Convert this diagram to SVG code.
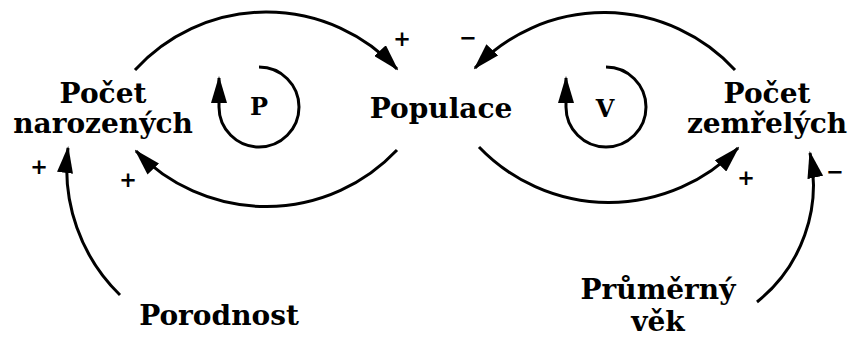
<svg xmlns="http://www.w3.org/2000/svg" width="851" height="338" viewBox="0 0 851 338">
<style>
.lbl{font-family:"DejaVu Serif","Liberation Serif",serif;font-weight:bold;font-size:28px;fill:#000;text-anchor:middle}
.loop{font-family:"DejaVu Serif","Liberation Serif",serif;font-weight:bold;font-size:24px;fill:#000;text-anchor:middle}
.sign{font-family:"DejaVu Sans","Liberation Sans",sans-serif;font-weight:bold;font-size:21px;fill:#000;text-anchor:middle}
.con{fill:none;stroke:#000;stroke-width:3;marker-end:url(#ah)}
</style>
<defs>
<marker id="ah" markerUnits="userSpaceOnUse" viewBox="0 0 27 16" markerWidth="27" markerHeight="16" refX="25" refY="8" orient="auto">
<path d="M0,0 L27,8 L0,16 z" fill="#000"/>
</marker>
</defs>
<rect width="851" height="338" fill="#fff"/>
<g id="connectors">
<path class="con" d="M135,70 A178,178 0 0,1 397,69"/>
<path class="con" d="M397,150 A180,180 0 0,1 136,151"/>
<path class="con" d="M735,70 A178,178 0 0,0 475,68"/>
<path class="con" d="M479,147 A180,180 0 0,0 738,148"/>
<path class="con" d="M120,295 A176,176 0 0,1 68,148"/>
<path class="con" d="M757,302 A150,150 0 0,0 810,153"/>
<text class="sign" x="402" y="46">+</text>
<text class="sign" x="128" y="187">+</text>
<text class="sign" x="468" y="45">−</text>
<text class="sign" x="746" y="185">+</text>
<text class="sign" x="39" y="174">+</text>
<text class="sign" x="835" y="179">−</text>
</g>
<g id="loop-P">
<path class="con" d="M259,67 A40,40 0 1,1 219,107 L219,78"/>
<text class="loop" x="259" y="115">P</text>
</g>
<g id="loop-V">
<path class="con" d="M606,67 A40,40 0 1,1 566,107 L566,78"/>
<text class="loop" x="605" y="117">V</text>
</g>
<g id="n-pocet-narozenych">
<text class="lbl" x="103" y="103">Počet</text>
<text class="lbl" x="103" y="133">narozených</text>
</g>
<g id="n-populace">
<text class="lbl" x="441" y="118">Populace</text>
</g>
<g id="n-pocet-zemrelych">
<text class="lbl" x="767" y="103">Počet</text>
<text class="lbl" x="767" y="133">zemřelých</text>
</g>
<g id="n-porodnost">
<text class="lbl" x="219" y="325">Porodnost</text>
</g>
<g id="n-prumerny-vek">
<text class="lbl" x="658" y="299">Průměrný</text>
<text class="lbl" x="658" y="331">věk</text>
</g>
</svg>
